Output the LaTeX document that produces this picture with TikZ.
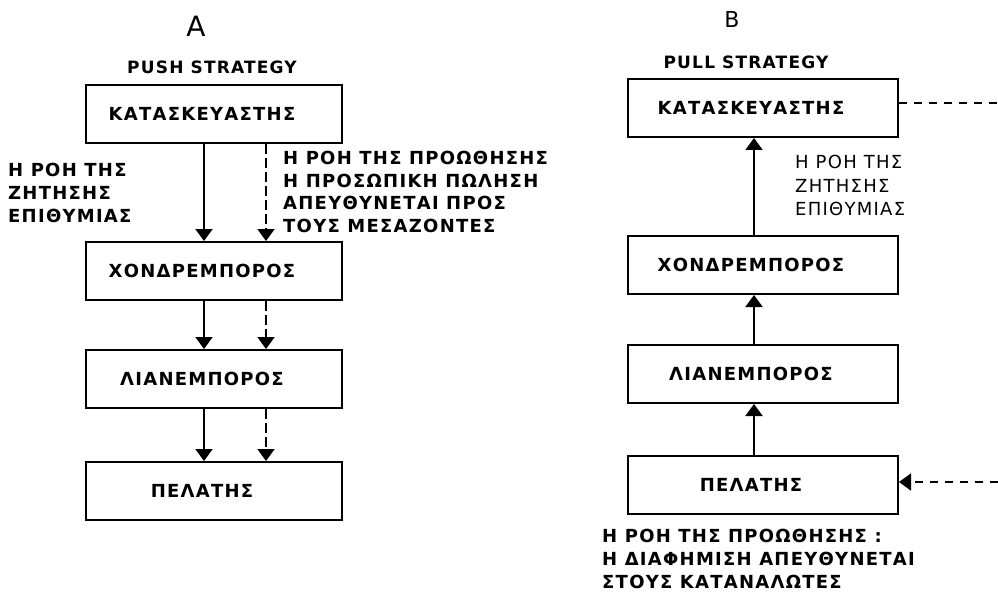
\documentclass[tikz,border=0pt]{standalone}
\usepackage{fontspec}
\setmainfont{DejaVu Sans}
\newfontfamily\grfont[LetterSpace=7]{DejaVu Sans}
\usetikzlibrary{arrows.meta}

\begin{document}
\begin{tikzpicture}[x=1pt, y=-1pt,
  block/.style={draw, line width=2pt, minimum height=58pt, inner sep=0pt,
    execute at begin node=\hspace*{-24pt},
    font=\grfont\bfseries\fontsize{18}{23}\selectfont},
  note/.style={anchor=north west, align=left, inner sep=0pt,
    font=\grfont\bfseries\fontsize{18}{23}\selectfont},
  flow/.style={line width=2pt, -{Triangle[length=12pt,width=17pt]}},
  promo/.style={flow, dash pattern=on 10pt off 4pt},
  ad/.style={line width=1.6pt, dash pattern=on 8pt off 7pt}
]
\useasboundingbox (0,0) rectangle (998,596);

\node[font=\fontsize{28}{28}\selectfont] (letA) at (196,26) {A};
\node[font=\grfont\bfseries\fontsize{17}{17}\selectfont] (push) at (212,67) {PUSH STRATEGY};
\node[block, minimum width=256pt] (kataA) at (214,114) {ΚΑΤΑΣΚΕΥΑΣΤΗΣ};
\node[block, minimum width=256pt] (xondA) at (214,271) {ΧΟΝΔΡΕΜΠΟΡΟΣ};
\node[block, minimum width=256pt] (lianA) at (214,379) {ΛΙΑΝΕΜΠΟΡΟΣ};
\node[block, minimum width=256pt] (pelA) at (214,491) {ΠΕΛΑΤΗΣ};
\node[note] (demA) at (8,163) {Η ΡΟΗ ΤΗΣ\\ΖΗΤΗΣΗΣ\\ΕΠΙΘΥΜΙΑΣ};
\node[note, font=\grfont\bfseries\fontsize{18}{22.5}\selectfont] (promA) at (283,151)
  {Η ΡΟΗ ΤΗΣ ΠΡΟΩΘΗΣΗΣ\\Η ΠΡΟΣΩΠΙΚΗ ΠΩΛΗΣΗ\\ΑΠΕΥΘΥΝΕΤΑΙ ΠΡΟΣ\\ΤΟΥΣ ΜΕΣΑΖΟΝΤΕΣ};
\draw[flow] ([xshift=-10pt]kataA.south) -- ([xshift=-10pt]xondA.north);
\draw[promo] ([xshift=52pt]kataA.south) -- ([xshift=52pt]xondA.north);
\draw[flow] ([xshift=-10pt]xondA.south) -- ([xshift=-10pt]lianA.north);
\draw[promo] ([xshift=52pt]xondA.south) -- ([xshift=52pt]lianA.north);
\draw[flow] ([xshift=-10pt]lianA.south) -- ([xshift=-10pt]pelA.north);
\draw[promo] ([xshift=52pt]lianA.south) -- ([xshift=52pt]pelA.north);

\node[font=\fontsize{22}{22}\selectfont] (letB) at (732,19) {B};
\node[font=\grfont\bfseries\fontsize{17}{17}\selectfont] (pull) at (746,62) {PULL STRATEGY};
\node[block, minimum width=270pt] (kataB) at (763,108) {ΚΑΤΑΣΚΕΥΑΣΤΗΣ};
\node[block, minimum width=270pt] (xondB) at (763,265) {ΧΟΝΔΡΕΜΠΟΡΟΣ};
\node[block, minimum width=270pt] (lianB) at (763,374) {ΛΙΑΝΕΜΠΟΡΟΣ};
\node[block, minimum width=270pt] (pelB) at (763,485) {ΠΕΛΑΤΗΣ};
\node[note, font=\grfont\fontsize{18}{23.5}\selectfont] (demB) at (795,155) {Η ΡΟΗ ΤΗΣ\\ΖΗΤΗΣΗΣ\\ΕΠΙΘΥΜΙΑΣ};
\node[note] (promB) at (602,529)
  {Η ΡΟΗ ΤΗΣ ΠΡΟΩΘΗΣΗΣ :\\Η ΔΙΑΦΗΜΙΣΗ ΑΠΕΥΘΥΝΕΤΑΙ\\ΣΤΟΥΣ ΚΑΤΑΝΑΛΩΤΕΣ};
\coordinate (outB) at (998,103);
\coordinate (inB) at (998,482);
\draw[flow] ([xshift=-9pt]xondB.north) -- ([xshift=-9pt]kataB.south);
\draw[flow] ([xshift=-9pt]lianB.north) -- ([xshift=-9pt]xondB.south);
\draw[flow] ([xshift=-9pt]pelB.north) -- ([xshift=-9pt]lianB.south);
\draw[ad] (kataB.east |- outB) -- (outB);
\draw[ad, -{Triangle[length=12pt,width=17pt]}] (inB) -- (pelB.east |- inB);
\end{tikzpicture}
\end{document}
